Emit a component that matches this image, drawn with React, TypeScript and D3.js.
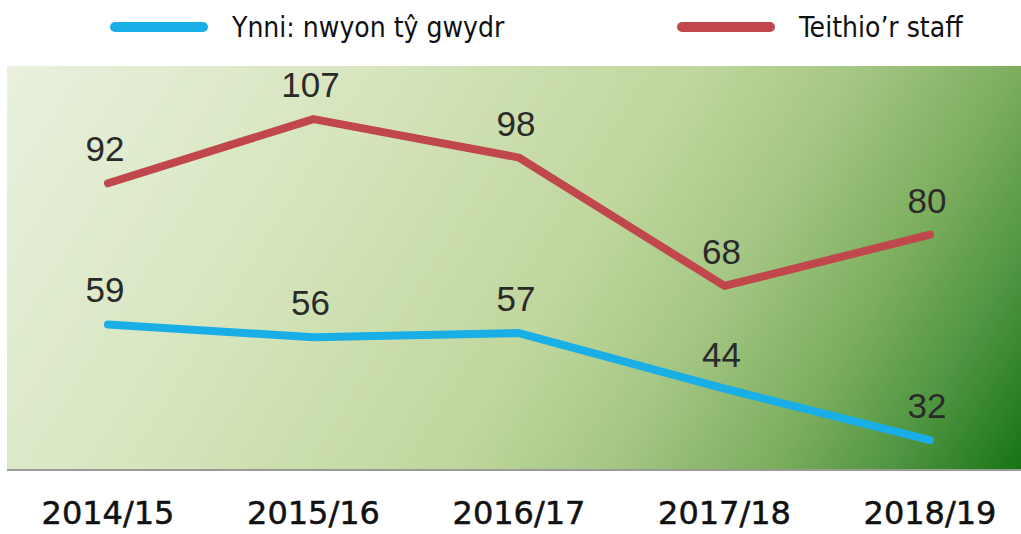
import React from "react";
import * as d3 from "d3";

const categories = ["2014/15", "2015/16", "2016/17", "2017/18", "2018/19"];
const energyValues = [59, 56, 57, 44, 32];
const travelValues = [92, 107, 98, 68, 80];
const seriesNames = ["Ynni: nwyon tŷ gwydr", "Teithio’r staff"];
const seriesColors = ["#1aaee6", "#c0474b"];

const W = 1021;
const H = 534;
const plot = { left: 7, right: 1021, top: 66, bottom: 470 };

export default function App() {
  const x = d3
    .scalePoint<string>()
    .domain(categories)
    .range([108, 930]);
  const y = d3.scaleLinear().domain([25, 119.4]).range([plot.bottom, plot.top]);
  const line = d3
    .line<number>()
    .x((_, i) => x(categories[i]) as number)
    .y((d) => y(d));
  const series = [energyValues, travelValues];

  return (
    <svg
      width={W}
      height={H}
      style={{ position: "absolute", left: 0, top: 0, background: "#fff" }}
    >
      <defs>
        <linearGradient
          id="bg"
          gradientUnits="userSpaceOnUse"
          x1={7}
          y1={66}
          x2={921}
          y2={632}
        >
          <stop offset="0" stopColor="#e9f1de" />
          <stop offset="0.3" stopColor="#d6e5bd" />
          <stop offset="0.55" stopColor="#bfd69c" />
          <stop offset="0.67" stopColor="#a6c786" />
          <stop offset="0.8" stopColor="#7cae5e" />
          <stop offset="0.9" stopColor="#4e9440" />
          <stop offset="1" stopColor="#167414" />
        </linearGradient>
      </defs>
      <rect
        x={plot.left}
        y={plot.top}
        width={plot.right - plot.left}
        height={plot.bottom - plot.top}
        fill="url(#bg)"
      />
      <line
        x1={plot.left}
        x2={plot.right}
        y1={plot.bottom}
        y2={plot.bottom}
        stroke="#9a9a9a"
        strokeWidth={2}
      />
      {/* legend */}
      {seriesNames.map((name, i) => {
        const lx = i === 0 ? 115 : 682;
        return (
          <g key={name}>
            <line
              x1={lx}
              x2={lx + 88}
              y1={27}
              y2={27}
              stroke={seriesColors[i]}
              strokeWidth={10}
              strokeLinecap="round"
            />
            <text
              x={lx + 117}
              y={27}
              dy="0.35em"
              fontFamily="'DejaVu Sans Condensed', 'DejaVu Sans', sans-serif"
              fontStretch="condensed"
              fontSize={28}
              fill="#111"
            >
              {name}
            </text>
          </g>
        );
      })}
      {series.map((vals, s) => (
        <g key={s}>
          <path
            d={line(vals) as string}
            fill="none"
            stroke={seriesColors[s]}
            strokeWidth={8}
            strokeLinejoin="round"
            strokeLinecap="round"
          />
          {vals.map((v, i) => (
            <text
              key={i}
              x={(x(categories[i]) as number) - 3}
              y={y(v) - 22}
              textAnchor="middle"
              fontFamily="'Liberation Sans', Arial, sans-serif"
              fontSize={35}
              fill="#2a2a2a"
            >
              {v}
            </text>
          ))}
        </g>
      ))}
      {categories.map((c) => (
        <text
          key={c}
          x={x(c) as number}
          y={524}
          textAnchor="middle"
          fontFamily="'DejaVu Sans', sans-serif"
          fontSize={32}
          fill="#111"
          stroke="#111"
          strokeWidth={0.5}
        >
          {c}
        </text>
      ))}
    </svg>
  );
}
